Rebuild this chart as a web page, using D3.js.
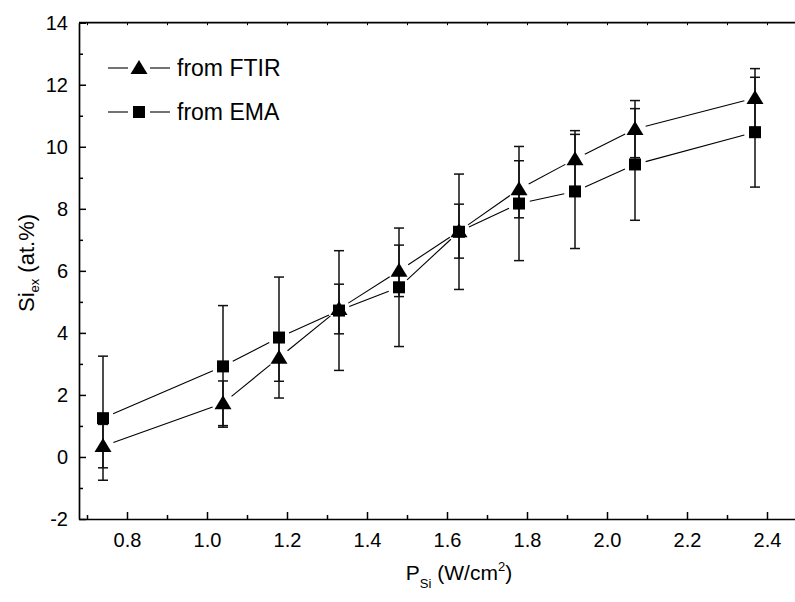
<!DOCTYPE html>
<html>
<head>
<meta charset="utf-8">
<script src="https://cdn.jsdelivr.net/npm/d3@7"></script>
<style>
  html, body { margin: 0; padding: 0; background: #fff; }
  svg { display: block; font-family: "Liberation Sans", Arial, sans-serif; }
</style>
</head>
<body>
<svg id="chart"></svg>
<script>
const width = 795;
const height = 602;

// P_Si (W/cm2)
const power = [0.74, 1.04, 1.18, 1.33, 1.48, 1.63, 1.78, 1.92, 2.07, 2.37];
// Si excess from FTIR (at.%) and its error
const ftir = [0.35, 1.73, 3.2, 4.77, 6.0, 7.28, 8.63, 9.6, 10.57, 11.57];
const ftirErr = [0.7, 0.72, 0.76, 0.8, 0.83, 0.87, 0.92, 0.92, 0.92, 0.95];
// Si excess from EMA (at.%) and its error
const ema = [1.25, 2.92, 3.85, 4.72, 5.47, 7.26, 8.17, 8.56, 9.43, 10.47];
const emaErr = [2.0, 1.96, 1.95, 1.93, 1.91, 1.86, 1.84, 1.84, 1.8, 1.77];

const xTicks = [0.8, 1.0, 1.2, 1.4, 1.6, 1.8, 2.0, 2.2, 2.4];
const xMinor = [0.7, 0.9, 1.1, 1.3, 1.5, 1.7, 1.9, 2.1, 2.3];
const yTicks = [-2, 0, 2, 4, 6, 8, 10, 12, 14];
const yMinor = [-1, 1, 3, 5, 7, 9, 11, 13];

const seriesNames = ["from FTIR", "from EMA"];

const margins = { top: 22.7, left: 79, bottom: 83 };

const x = d3.scaleLinear().domain([0.68, 2.48]).range([margins.left, margins.left + 720]);
const y = d3.scaleLinear().domain([-2, 14]).range([height - margins.bottom, margins.top]);

const svg = d3.select("#chart").attr("width", width).attr("height", height);

// frame top line
svg.append("line")
  .attr("x1", x.range()[0]).attr("x2", x.range()[1])
  .attr("y1", y(14)).attr("y2", y(14))
  .attr("stroke", "#000").attr("stroke-width", 1.7);

// top small ticks
svg.append("g")
  .attr("transform", `translate(0,${y(14)})`)
  .call(d3.axisTop(x).tickValues(xTicks.concat(xMinor)).tickFormat("").tickSize(-2.5).tickSizeOuter(0))
  .call((g) => g.select(".domain").remove())
  .selectAll("line").attr("stroke-width", 1);

// bottom axis
const xAxisG = svg.append("g")
  .attr("transform", `translate(0,${y(-2)})`)
  .call(d3.axisBottom(x).tickValues(xTicks).tickFormat(d3.format(".1f")).tickSize(-7).tickSizeOuter(0).tickPadding(14));
xAxisG.select(".domain").attr("stroke-width", 1.7);
xAxisG.selectAll(".tick line").attr("stroke-width", 1.5);
xAxisG.selectAll("text").attr("font-size", 20).attr("fill", "#000").attr("font-family", null);

svg.append("g")
  .attr("transform", `translate(0,${y(-2)})`)
  .call(d3.axisBottom(x).tickValues(xMinor).tickFormat("").tickSize(-4).tickSizeOuter(0))
  .call((g) => g.select(".domain").remove())
  .selectAll("line").attr("stroke-width", 1.5);

// left axis
const yAxisG = svg.append("g")
  .attr("transform", `translate(${x(0.68)},0)`)
  .call(d3.axisLeft(y).tickValues(yTicks).tickFormat((d) => String(d)).tickSize(-7).tickSizeOuter(0).tickPadding(11));
yAxisG.select(".domain").attr("stroke-width", 1.7);
yAxisG.selectAll(".tick line").attr("stroke-width", 1.5);
yAxisG.selectAll("text").attr("font-size", 20).attr("fill", "#000").attr("font-family", null);

svg.append("g")
  .attr("transform", `translate(${x(0.68)},0)`)
  .call(d3.axisLeft(y).tickValues(yMinor).tickFormat("").tickSize(-4).tickSizeOuter(0))
  .call((g) => g.select(".domain").remove())
  .selectAll("line").attr("stroke-width", 1.5);

// axis titles
const xTitle = svg.append("text")
  .attr("x", 459).attr("y", 580)
  .attr("text-anchor", "middle").attr("font-size", 21);
xTitle.append("tspan").text("P");
xTitle.append("tspan").text("Si").attr("font-size", 13).attr("dy", 8);
xTitle.append("tspan").text(" (W/cm").attr("dy", -8);
xTitle.append("tspan").text("2").attr("font-size", 13).attr("dy", -9);
xTitle.append("tspan").text(")").attr("dy", 9);

const yTitle = svg.append("text")
  .attr("transform", "translate(34,263) rotate(-90)")
  .attr("text-anchor", "middle").attr("font-size", 22);
yTitle.append("tspan").text("Si");
yTitle.append("tspan").text("ex").attr("font-size", 13).attr("dy", 5);
yTitle.append("tspan").text(" (at.%)").attr("dy", -5);

// data
const series = [
  { name: seriesNames[0], values: ftir, errs: ftirErr, shape: "triangle" },
  { name: seriesNames[1], values: ema, errs: emaErr, shape: "square" },
];

const gap = 11;
const trianglePath = (cx, cy) => {
  const w = 17, h = 14;
  return `M${cx},${cy - h / 2 - 1}L${cx + w / 2},${cy + h / 2 - 1}L${cx - w / 2},${cy + h / 2 - 1}Z`;
};

series.forEach((s) => {
  const pts = power.map((p, i) => [x(p), y(s.values[i])]);
  const segs = d3.pairs(pts).map(([a, b]) => {
    const dx = b[0] - a[0], dy = b[1] - a[1];
    const len = Math.hypot(dx, dy);
    const ux = dx / len, uy = dy / len;
    return [a[0] + ux * gap, a[1] + uy * gap, b[0] - ux * gap, b[1] - uy * gap];
  });
  svg.append("g").selectAll("line")
    .data(segs)
    .join("line")
    .attr("x1", (d) => d[0]).attr("y1", (d) => d[1])
    .attr("x2", (d) => d[2]).attr("y2", (d) => d[3])
    .attr("stroke", "#000").attr("stroke-width", 1.1);
});

series.forEach((s) => {
  const eg = svg.append("g").attr("stroke", "#111").attr("stroke-width", 1.5);
  power.forEach((p, i) => {
    const lo = y(s.values[i] - s.errs[i]);
    const hi = y(s.values[i] + s.errs[i]);
    const cx = x(p);
    eg.append("line").attr("x1", cx).attr("x2", cx).attr("y1", lo).attr("y2", hi);
    eg.append("line").attr("x1", cx - 5).attr("x2", cx + 5).attr("y1", lo).attr("y2", lo);
    eg.append("line").attr("x1", cx - 5).attr("x2", cx + 5).attr("y1", hi).attr("y2", hi);
  });
});

series.forEach((s) => {
  const g = svg.append("g");
  if (s.shape === "square") {
    g.selectAll("rect")
      .data(power)
      .join("rect")
      .attr("x", (d) => x(d) - 6)
      .attr("y", (d, i) => y(s.values[i]) - 6)
      .attr("width", 12).attr("height", 12)
      .attr("fill", "#000");
  } else {
    g.selectAll("path")
      .data(power)
      .join("path")
      .attr("d", (d, i) => trianglePath(x(d), y(s.values[i])))
      .attr("fill", "#000");
  }
});

// legend
const legend = svg.append("g");
series.forEach((s, i) => {
  const ly = 68 + i * 44;
  legend.append("line").attr("x1", 108).attr("x2", 128).attr("y1", ly).attr("y2", ly)
    .attr("stroke", "#000").attr("stroke-width", 1.1);
  legend.append("line").attr("x1", 150).attr("x2", 170).attr("y1", ly).attr("y2", ly)
    .attr("stroke", "#000").attr("stroke-width", 1.1);
  if (s.shape === "square") {
    legend.append("rect").attr("x", 133).attr("y", ly - 6).attr("width", 12).attr("height", 12).attr("fill", "#000");
  } else {
    legend.append("path").attr("d", trianglePath(139, ly)).attr("fill", "#000");
  }
  legend.append("text").attr("x", 177).attr("y", ly + 8).attr("font-size", 23).text(s.name);
});
</script>
</body>
</html>
